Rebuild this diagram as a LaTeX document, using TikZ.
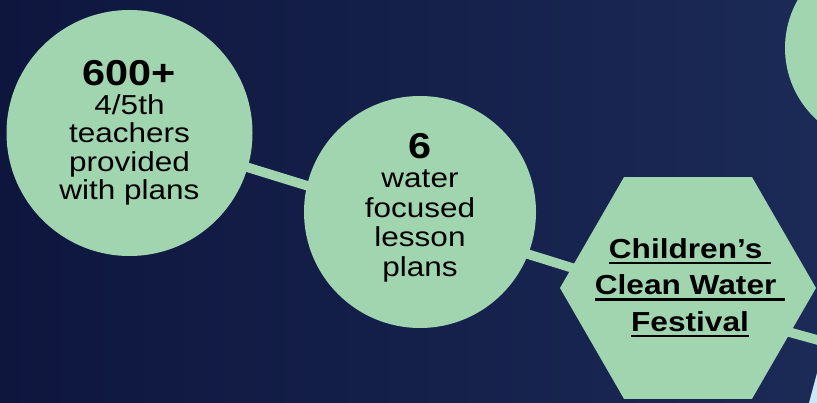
\documentclass[tikz,border=0pt]{standalone}
\usepackage{fontspec}
\setmainfont{Liberation Sans}
\newfontfamily\statfont[FakeStretch=1.15]{Liberation Sans}
\usepackage{tikz}
\usetikzlibrary{shapes.geometric}
\usetikzlibrary{backgrounds}
\definecolor{navyl}{RGB}{14,22,62}
\definecolor{navyr}{RGB}{27,42,86}
\definecolor{mint}{RGB}{160,213,176}
\definecolor{icy}{RGB}{200,234,248}
\newcommand{\undr}[1]{\setbox0\hbox{#1}\rlap{\rule[-6pt]{\wd0}{2.7pt}}\box0}

\begin{document}
\begin{tikzpicture}[x=1pt,y=-1pt,
  bubble/.style={circle,fill=mint,inner sep=0pt,align=center,
    font=\statfont\fontsize{27.4}{28.5}\selectfont},
  hexa/.style={regular polygon,regular polygon sides=6,fill=mint,inner sep=0pt},
  hexlabel/.style={align=center,inner sep=0pt,
    font=\statfont\bfseries\fontsize{27.5}{36.5}\selectfont},
  link/.style={draw=mint,line width=9.5pt}]
  \useasboundingbox (0,0) rectangle (817,403);
  \node [bubble,minimum size=246pt] (teachers) at (129.5,133)
    {{\bfseries\fontsize{36}{31}\selectfont 600+}\\4/5th\\teachers\\provided\\with plans};
  \node [bubble,minimum size=232pt,text depth=15pt,
    font=\statfont\fontsize{27.4}{29.5}\selectfont] (lessons) at (420,212)
    {{\bfseries\fontsize{36}{30}\selectfont 6}\\water\\focused\\lesson\\plans};
  \node [hexa,minimum size=256pt] (festival) at (688,288) {};
  \node [hexlabel] (festtext) at ([xshift=2pt]festival.center)
    {\undr{Children’s\ }\\\undr{Clean Water\ }\\\undr{Festival}};
  \node [circle,fill=mint,minimum size=194pt] (nextstat) at (882,48) {};
  \coordinate (offright) at (850,349);
  \begin{scope}[on background layer]
    \fill [left color=navyl,right color=navyr] (0,0) rectangle (817,403);
    \draw [link] ([yshift=2pt]teachers.center) -- ([yshift=-8.5pt]lessons.center);
    \draw [link] ([yshift=-8.5pt]lessons.center) -- ([yshift=-16pt]festival.center);
    \draw [link] ([yshift=-16pt]festival.center) -- (offright);
  \end{scope}
  \fill [icy] (809,403) -- (817,373) -- (817,403) -- cycle;
\end{tikzpicture}
\end{document}
